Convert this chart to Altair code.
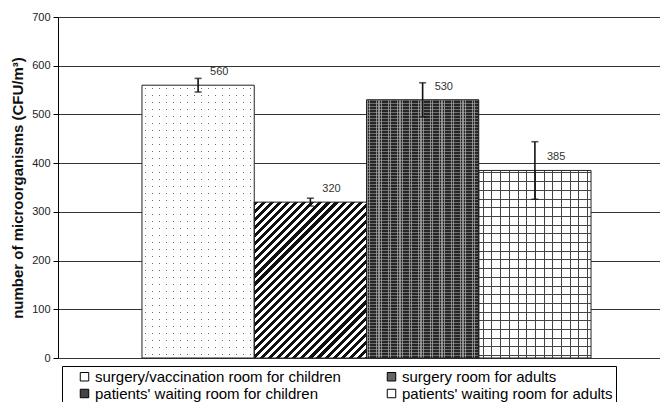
import math
import altair as alt
import pandas as pd

# ---------------- data ----------------
series = [
    "surgery/vaccination room for children",
    "surgery room for adults",
    "patients' waiting room for children",
    "patients' waiting room for adults",
]
values = [560, 320, 530, 385]
errors = [14, 8, 35, 59]
value_labels = ["560", "320", "530", "385"]
y_ticks = [0, 100, 200, 300, 400, 500, 600, 700]
y_title = "number of microorganisms (CFU/m³)"

df = pd.DataFrame({"series": series, "value": values, "err": errors, "label": value_labels})
df["lo"] = df["value"] - df["err"]
df["hi"] = df["value"] + df["err"]

# legend reads row by row: (0, 1) then (2, 3); the legend fills column-wise
legend_order = [series[0], series[2], series[1], series[3]]

# ---------------- layout / style ----------------
W, H = 617, 341
Y_MAX = 700
PAD_OUTER = 0.748
BAND = W / (4 + 2 * PAD_OUTER)
FONT = "Liberation Sans"
TRANSP = "rgba(255,255,255,0)"


def stripe_stops(length, period, line, line_color, bg, phase=0.0):
    pts = [(0.0, bg)]
    p = phase
    while p < length:
        a = max(p / length, 0.0)
        b = min((p + line) / length, 1.0)
        pts += [(a, bg), (a, line_color), (b, line_color), (b, bg)]
        p += period
    pts.append((1.0, bg))
    out, last = [], 0.0
    for o, c in pts:
        o = max(round(o, 5), last)
        last = o
        out.append(alt.GradientStop(offset=o, color=c))
    return out


def grad(stops, x1, y1, x2, y2):
    return alt.LinearGradient(gradient="linear", stops=stops, x1=x1, y1=y1, x2=x2, y2=y2)


def vlines(length, period, line, color, bg, phase=0.0):
    return grad(stripe_stops(length, period, line, color, bg, phase), 0, 0, 1, 0)


def hlines(length, period, line, color, bg, phase=0.0):
    return grad(stripe_stops(length, period, line, color, bg, phase), 0, 0, 0, 1)


def diag_hatch(w, h, period, line, color, bg):
    # isolines run "/" (bottom-left to top-right) at 45 degrees in pixel space
    r = w / h
    b = (r + 1) / (r * r + 1)
    a = r * b
    length = (w + h) / math.sqrt(2)
    return grad(stripe_stops(length, period, line, color, bg), 0, 0, a, b)


heights = [v / Y_MAX * H for v in values]

x_enc = alt.X("series:N", sort=series,
              scale=alt.Scale(paddingInner=0, paddingOuter=PAD_OUTER), axis=None)
y_enc = alt.Y("value:Q",
              scale=alt.Scale(domain=[0, Y_MAX], nice=False, zero=True),
              axis=alt.Axis(values=y_ticks, title=y_title, grid=True, gridColor="#333333",
                            gridWidth=1, domainColor="#000", tickColor="#000", tickSize=5,
                            labelFontSize=11, labelColor="#222", labelPadding=3,
                            titleFontSize=15, titleFontWeight="bold", titleColor="#111",
                            titlePadding=6, labelFont=FONT, titleFont=FONT))

base = alt.Chart(df)

legend = alt.Legend(
    orient="none", legendX=4, legendY=349, columns=2, title=None,
    symbolType="square", symbolSize=72, symbolStrokeColor="#000", symbolStrokeWidth=1,
    labelFontSize=15, labelFont=FONT, labelColor="#000", labelLimit=500,
    strokeColor="#000", fillColor="white", padding=3, rowPadding=1,
    columnPadding=31, symbolOffset=12, labelOffset=3, gridAlign="all",
)

bars = base.mark_bar(strokeWidth=0).encode(
    x=x_enc, y=y_enc,
    color=alt.Color("series:N", sort=legend_order,
                    scale=alt.Scale(domain=legend_order,
                                    range=["white", "#444444", "#666666", "white"]),
                    legend=legend),
)


def one(i):
    return base.transform_filter(alt.datum.series == series[i])


w = BAND
layers = [bars]
# bar 1: dotted
layers.append(one(0).mark_bar(fill=vlines(w, 7, 1, "#6a6a6a", TRANSP, 3)).encode(x=x_enc, y="value:Q"))
layers.append(one(0).mark_bar(fill=hlines(heights[0], 7, 1, TRANSP, "white", 3)).encode(x=x_enc, y="value:Q"))
# bar 2: diagonal hatch
layers.append(one(1).mark_bar(fill=diag_hatch(w, heights[1], 5.7, 2.9, "#111111", "white")).encode(x=x_enc, y="value:Q"))
# bar 3: dark fine check
layers.append(one(2).mark_bar(fill=vlines(w, 3, 1, "#8a8a8a", "#262626")).encode(x=x_enc, y="value:Q"))
layers.append(one(2).mark_bar(fill=hlines(heights[2], 3, 1, "rgba(170,170,170,0.55)", TRANSP)).encode(x=x_enc, y="value:Q"))
# bar 4: grid
layers.append(one(3).mark_bar(fill=vlines(w, 8.7, 1, "#444444", TRANSP, 4)).encode(x=x_enc, y="value:Q"))
layers.append(one(3).mark_bar(fill=hlines(heights[3], 8.7, 1, "#444444", TRANSP, 2)).encode(x=x_enc, y="value:Q"))
# outlines
layers.append(base.mark_bar(fillOpacity=0, stroke="#222", strokeWidth=1).encode(x=x_enc, y="value:Q"))

# error bars
layers.append(base.mark_rule(color="#111", strokeWidth=1.6).encode(x=x_enc, y="lo:Q", y2="hi:Q"))
layers.append(base.mark_tick(color="#111", thickness=1.6, size=7).encode(x=x_enc, y="lo:Q"))
layers.append(base.mark_tick(color="#111", thickness=1.6, size=7).encode(x=x_enc, y="hi:Q"))

# value labels
layers.append(base.mark_text(align="left", baseline="middle", dx=12, dy=-13, fontSize=11,
                             font=FONT, color="#333").encode(x=x_enc, y="value:Q", text="label:N"))

chart = alt.layer(*layers).properties(
    width=W, height=H,
    autosize=alt.AutoSizeParams(type="none"),
    padding={"left": 50, "top": 9, "right": -15, "bottom": 44},
).configure_view(fill="#cccccc", stroke=None).configure(font=FONT)

chart.save("out.html", embed_options={"renderer": "svg", "actions": False})
